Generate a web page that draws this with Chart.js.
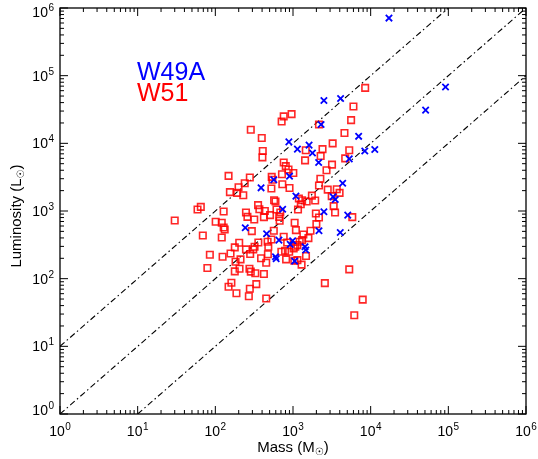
<!DOCTYPE html>
<html>
<head>
<meta charset="utf-8">
<script src="https://cdn.jsdelivr.net/npm/chart.js@4"></script>
<style>
  body { margin: 0; background: #fff; }
  canvas { display: block; }
</style>
</head>
<body>
<canvas id="lmChart" width="538" height="459"></canvas>
<script>
// W49A clumps (blue crosses)
const w49aMass = [17200, 92000, 51000, 2500, 4100, 2300, 7000, 8400, 11300, 885,
  1140, 1610, 1780, 2140, 5300, 4360, 388, 566, 902, 1090,
  3280, 3500, 2500, 5070, 736, 2160, 4060, 243, 457, 659,
  989, 1430, 1460, 595, 607, 1050, 921];
const w49aLum = [710000, 68000, 31000, 43000, 46000, 19000, 12700, 7700, 8100, 10500,
  8200, 9400, 7200, 5200, 5900, 2570, 2200, 2900, 3270, 1660,
  1620, 1480, 973, 869, 1060, 510, 482, 565, 461, 371,
  363, 296, 265, 211, 197, 182, 321];

// W51 clumps (red squares)
const w51Mass = [8500, 6000, 5600, 4600, 3240, 2400, 5300, 4700, 3180, 2700,
  2160, 2270, 1460, 1430, 2250, 2160, 2800, 3660, 3980, 3150,
  3340, 3480, 1750, 1930, 1500, 1310, 1260, 1160, 1970, 2160,
  2000, 5800, 1680, 1580, 1360, 1050, 1090, 1220, 1070, 1470,
  1290, 1140, 1040, 5300, 2570, 7900, 6150, 959, 759, 714,
  286, 396, 408, 404, 759, 807, 875, 1010, 721, 532,
  543, 527, 729, 902, 278, 239, 148, 154, 199, 191,
  229, 355, 369, 434, 571, 595, 613, 686, 665, 506,
  422, 673, 248, 259, 317, 128, 65, 59, 30, 69,
  101, 121, 128, 132, 121, 295, 85, 79, 124, 157,
  178, 203, 248, 281, 320, 308, 358, 471, 481, 475,
  388, 452, 182, 178, 211, 205, 275, 286, 327, 422,
  337, 161, 148, 278, 187, 270, 452, 527, 566, 759,
  841, 791, 708, 893, 815, 1020, 1140, 1310, 1190];
const w51Lum = [66000, 35000, 22000, 14200, 10000, 8200, 7900, 6000, 4850, 4000,
  19000, 6500, 7900, 5600, 3000, 2380, 2070, 2100, 1850, 1660,
  1180, 951, 1690, 1430, 1380, 1440, 1260, 1050, 918, 802,
  640, 811, 510, 398, 450, 670, 522, 351, 296, 216,
  161, 188, 184, 137, 86, 49, 28.8, 27000, 25000, 21000,
  15900, 12000, 7700, 6200, 5200, 4600, 4100, 3650, 3500, 3190,
  2900, 2150, 2490, 2190, 3120, 2570, 3300, 1900, 2240, 1850,
  1710, 1220, 1060, 1000, 1440, 1380, 1050, 951, 820, 869,
  811, 716, 951, 820, 750, 984, 1150, 1050, 724, 435,
  692, 670, 571, 534, 406, 504, 226, 144, 211, 236,
  290, 340, 271, 231, 296, 271, 343, 351, 296, 229,
  200, 172, 178, 128, 193, 140, 140, 127, 120, 117,
  83, 87, 76, 71, 61, 55, 51, 380, 510, 416,
  343, 259, 250, 250, 193, 280, 313, 371, 1530];

// L/M = 10, 1, 0.1 reference lines
const lineHigh = [[1, 10], [1e5, 1e6]];
const lineMid = [[1, 1], [1e6, 1e6]];
const lineLow = [[10, 1], [1e6, 1e5]];

const expLabels = ['0', '1', '2', '3', '4', '5', '6'];

function toPoints(xs, ys) {
  return xs.map((x, i) => ({ x: x, y: ys[i] }));
}
function pairs(arr) {
  return arr.map(p => ({ x: p[0], y: p[1] }));
}

const FONT = '"Liberation Sans", Arial, Helvetica, sans-serif';

// draws "10" with a raised exponent; anchor: 'center' or 'right'
function drawPow(ctx, x, y, exp, anchor) {
  ctx.font = '14px ' + FONT;
  const wb = ctx.measureText('10').width;
  ctx.font = '10px ' + FONT;
  const we = ctx.measureText(exp).width;
  const total = wb + we + 0.5;
  let start = anchor === 'center' ? x - total / 2 : x - total;
  ctx.textAlign = 'left';
  ctx.textBaseline = 'alphabetic';
  ctx.font = '14px ' + FONT;
  ctx.fillText('10', start, y);
  ctx.font = '10px ' + FONT;
  ctx.fillText(exp, start + wb + 0.5, y - 6);
}

function drawSunLabel(ctx, text, sym, close, x, y) {
  ctx.font = '15px ' + FONT;
  const w1 = ctx.measureText(text).width;
  const w3 = ctx.measureText(close).width;
  ctx.font = '10px "DejaVu Sans", sans-serif';
  const w2 = ctx.measureText(sym).width;
  let s = x - (w1 + w2 + w3) / 2;
  ctx.textAlign = 'left';
  ctx.textBaseline = 'alphabetic';
  ctx.font = '15px ' + FONT;
  ctx.fillText(text, s, y);
  ctx.font = '10px "DejaVu Sans", sans-serif';
  ctx.fillText(sym, s + w1, y + 3);
  ctx.font = '15px ' + FONT;
  ctx.fillText(close, s + w1 + w2, y);
}

const framePlugin = {
  id: 'idlFrame',
  afterDraw(chart) {
    const ctx = chart.ctx;
    const a = chart.chartArea;
    const xs = chart.scales.x, ys = chart.scales.y;
    ctx.save();
    ctx.strokeStyle = '#000';
    ctx.fillStyle = '#000';
    ctx.lineWidth = 1.3;
    ctx.strokeRect(a.left, a.top, a.right - a.left, a.bottom - a.top);

    ctx.lineWidth = 1;
    ctx.beginPath();
    for (let k = 0; k <= 6; k++) {
      for (let m = 1; m <= 9; m++) {
        if (k === 6 && m > 1) break;
        const v = m * Math.pow(10, k);
        const len = m === 1 ? 8 : 4;
        const px = xs.getPixelForValue(v);
        const py = ys.getPixelForValue(v);
        ctx.moveTo(px, a.bottom); ctx.lineTo(px, a.bottom - len);
        ctx.moveTo(px, a.top); ctx.lineTo(px, a.top + len);
        ctx.moveTo(a.left, py); ctx.lineTo(a.left + len, py);
        ctx.moveTo(a.right, py); ctx.lineTo(a.right - len, py);
      }
    }
    ctx.stroke();

    for (let k = 0; k <= 6; k++) {
      const v = Math.pow(10, k);
      drawPow(ctx, xs.getPixelForValue(v), a.bottom + 22, expLabels[k], 'center');
      let py = ys.getPixelForValue(v) + 5;
      if (k === 6) py += 4;
      if (k === 0) py -= 4;
      drawPow(ctx, a.left - 6, py, expLabels[k], 'right');
    }

    drawSunLabel(ctx, 'Mass (M', '\u2609', ')', (a.left + a.right) / 2, 452);
    ctx.save();
    ctx.translate(21, (a.top + a.bottom) / 2 + 5);
    ctx.rotate(-Math.PI / 2);
    drawSunLabel(ctx, 'Luminosity (L', '\u2609', ')', 0, 0);
    ctx.restore();

    ctx.font = '25px ' + FONT;
    ctx.textAlign = 'left';
    ctx.fillStyle = '#0000ff';
    ctx.fillText('W49A', 137, 80);
    ctx.fillStyle = '#ff0000';
    ctx.fillText('W51', 137, 101);
    ctx.restore();
  }
};

const refLine = {
  showLine: true,
  borderColor: '#000',
  borderWidth: 1.1,
  borderDash: [6, 3, 1.5, 3],
  pointRadius: 0,
  fill: false
};

new Chart(document.getElementById('lmChart').getContext('2d'), {
  type: 'scatter',
  data: {
    datasets: [
      {
        label: 'W49A',
        data: toPoints(w49aMass, w49aLum),
        pointStyle: 'crossRot',
        pointRadius: 4.5,
        borderColor: '#0000ff',
        borderWidth: 1.8,
        backgroundColor: '#0000ff'
      },
      {
        label: 'W51',
        data: toPoints(w51Mass, w51Lum),
        pointStyle: 'rect',
        pointRadius: 4.6,
        borderColor: 'rgba(255,0,0,0.85)',
        borderWidth: 1.6,
        backgroundColor: 'rgba(0,0,0,0)'
      },
      Object.assign({ label: 'L/M=10', data: pairs(lineHigh) }, refLine),
      Object.assign({ label: 'L/M=1', data: pairs(lineMid) }, refLine),
      Object.assign({ label: 'L/M=0.1', data: pairs(lineLow) }, refLine)
    ]
  },
  options: {
    responsive: false,
    animation: false,
    layout: { padding: { left: 60, right: 12, top: 8, bottom: 45 } },
    plugins: { legend: { display: false }, tooltip: { enabled: false } },
    scales: {
      x: { type: 'logarithmic', min: 1, max: 1e6, display: false },
      y: { type: 'logarithmic', min: 1, max: 1e6, display: false }
    }
  },
  plugins: [framePlugin]
});
</script>
</body>
</html>
